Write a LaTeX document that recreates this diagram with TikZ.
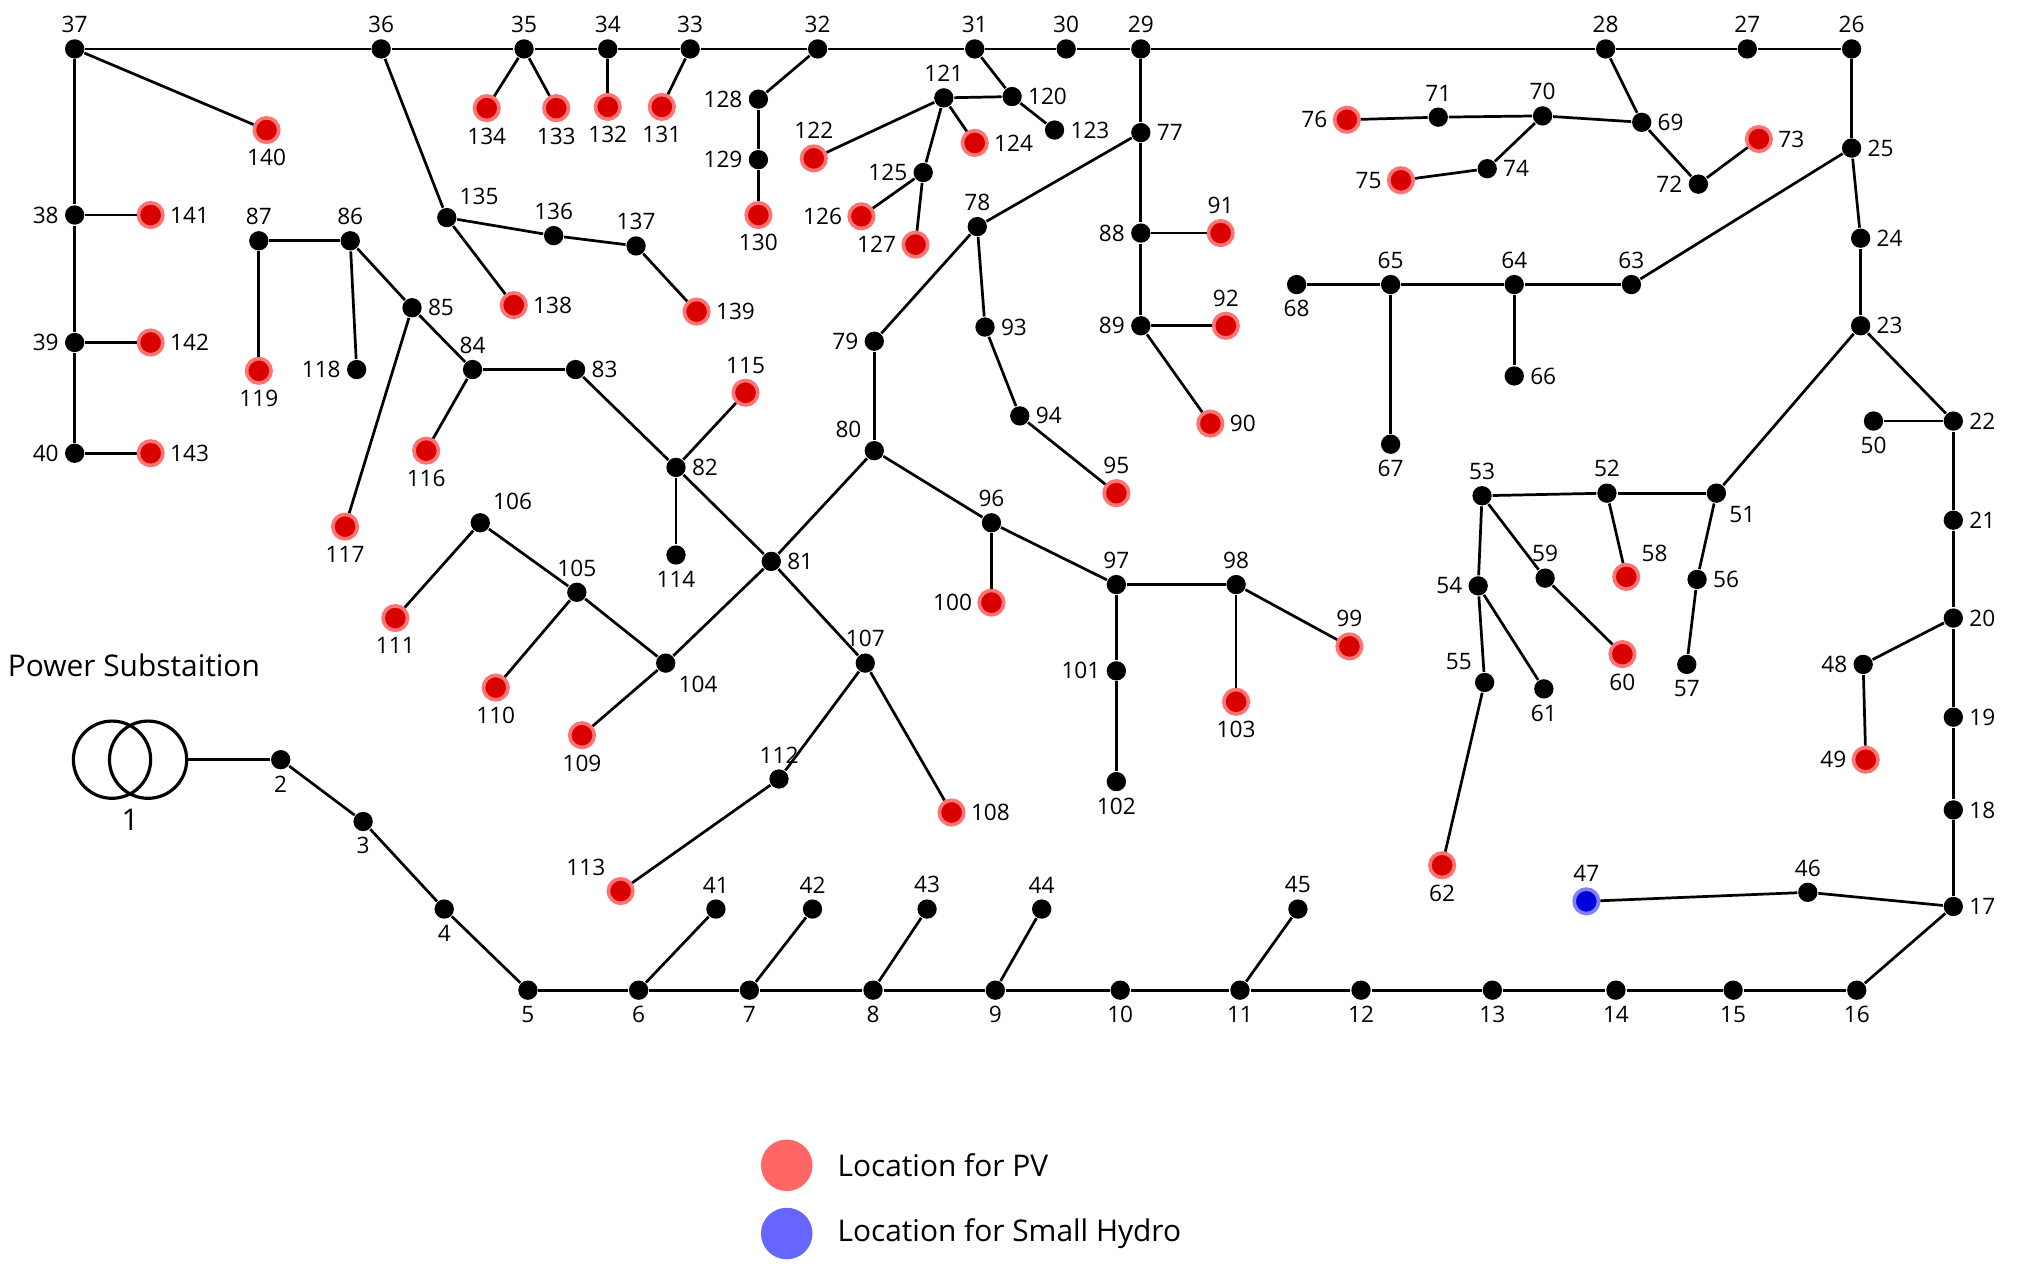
\documentclass[tikz,border=0pt]{standalone}
\usepackage{fontspec}
\setmainfont{Open Sans}
\begin{document}
\begin{tikzpicture}[x=0.01cm,y=-0.01cm,
 b/.style={circle,fill=black,inner sep=0pt,minimum size=0.15cm},
 r/.style={circle,fill=red!85!black,draw=red!55,line width=0.8pt,inner sep=0pt,minimum size=0.19cm},
 h/.style={circle,fill=blue!85!black,draw=blue!50,line width=0.8pt,inner sep=0pt,minimum size=0.19cm},
 lbl/.style={font=\fontsize{5}{6}\selectfont,inner sep=1pt},
 every label/.style={lbl},
 label distance=0pt,
 ln/.style={line width=0.6pt},
 big/.style={font=\fontsize{6.6}{8}\selectfont}]
\useasboundingbox (0,0) rectangle (1568,994);
\foreach \n/\x/\y/\t/\p in {
37/58/38/b/above,36/296/38/b/above,35/407/38/b/above,34/472/38/b/above,33/536/38/b/above,32/635/38/b/above,31/757/38/b/above,30/828/38/b/above,29/886/38/b/above,28/1247/38/b/above,27/1357/38/b/above,26/1438/38/b/above,
140/207/101/r/below,38/58/167/b/left,39/58/266/b/left,40/58/352/b/left,141/117/167/r/right,142/117/266/r/right,143/117/352/r/right,
135/347/169/b/above right,134/378/84/r/below,133/432/84/r/below,132/472/83/r/below,131/514/83/r/below,136/430/183/b/above,137/494/191/b/above,139/541/242/r/right,138/399/237/r/right,
128/589/77/b/left,129/589/124/b/left,130/589/167/r/below,120/786/75/b/right,121/733/76/b/above,123/819/101/b/right,122/632/123/r/above,124/757/111/r/right,125/717/134/b/left,126/669/168/r/left,127/711/190/r/left,
77/886/103/b/right,88/886/181/b/left,89/886/253/b/left,91/948/181/r/above,92/952/253/r/above,90/940/329/r/right,78/759/176/b/above,79/679/265/b/left,80/679/350/b/above left,93/765/254/b/right,94/792/323/b/right,95/867/383/r/above,
81/599/436/b/right,96/770/406/b/above,97/867/454/b/above,98/960/454/b/above,99/1048/502/r/above,100/770/468/r/left,101/867/521/b/left,102/867/607/b/below,103/960/545/r/below,
82/525/363/b/right,115/579/305/r/above,114/525/431/b/below,83/447/287/b/right,84/367/287/b/above,85/320/239/b/right,116/331/350/r/below,86/272/187/b/above,87/201/187/b/above,117/268/409/r/below,118/277/287/b/left,119/201/288/r/below,
104/517/515/b/below right,105/448/460/b/above,106/373/406/b/above right,109/452/571/r/below,110/385/534/r/below,111/307/480/r/below,107/672/515/b/above,112/605/605/b/above,108/739/631/r/right,113/482/692/r/above left,
2/218/590/b/below,3/282/638/b/below,4/345/706/b/below,5/410/769/b/below,6/496/769/b/below,7/582/769/b/below,8/678/769/b/below,9/773/769/b/below,10/870/769/b/below,11/963/769/b/below,12/1057/769/b/below,13/1159/769/b/below,14/1255/769/b/below,15/1346/769/b/below,16/1442/769/b/below,
41/556/706/b/above,42/631/706/b/above,43/720/706/b/above,44/809/706/b/above,45/1008/706/b/above,
17/1517/704/b/right,46/1404/693/b/above,47/1232/700/h/above,18/1517/629/b/right,19/1517/557/b/right,20/1517/480/b/right,21/1517/404/b/right,22/1517/327/b/right,50/1455/327/b/below,48/1447/516/b/left,49/1449/590/r/left,
23/1445/253/b/right,24/1445/185/b/right,25/1438/115/b/right,63/1267/221/b/above,64/1176/221/b/above,65/1080/221/b/above,68/1007/221/b/below,66/1176/292/b/right,67/1080/345/b/below,
51/1333/383/b/below right,52/1248/383/b/above,53/1151/385/b/above,58/1263/448/r/above right,56/1318/450/b/right,57/1310/516/b/below,59/1200/449/b/above,60/1260/508/r/below,54/1148/455/b/left,55/1153/530/b/above left,62/1120/672/r/below,61/1199/535/b/below,
69/1275/95/b/right,70/1198/90/b/above,71/1117/91/b/above,76/1046/93/r/left,74/1155/131/b/right,75/1088/140/r/left,72/1319/143/b/left,73/1366/108/r/right}
 \node[\t,label={\p:\n}] (n\n) at (\x,\y) {};
% substation
\draw[line width=0.7pt] (87,590) circle (30) (115,590) circle (30);
\coordinate (s1) at (145,590);
\node[big] (ps) at (104,517) {Power Substaition};
\node[big] (one) at (101,637) {1};
\draw[ln] (s1) -- (n2);
\foreach \a/\c in {37/36,36/35,35/34,34/33,33/32,32/31,31/30,30/29,29/28,28/27,27/26,
37/140,37/38,38/39,39/40,38/141,39/142,40/143,36/135,35/134,35/133,34/132,33/131,135/136,136/137,137/139,135/138,
32/128,128/129,129/130,31/120,120/123,121/120,121/122,121/124,121/125,125/126,125/127,
29/77,77/88,88/89,88/91,89/92,89/90,77/78,78/79,79/80,78/93,93/94,94/95,
80/81,80/96,96/97,97/98,98/99,96/100,97/101,101/102,98/103,
81/82,82/115,82/114,82/83,83/84,84/85,84/116,85/86,85/117,86/87,86/118,87/119,
81/104,104/105,104/109,105/106,105/110,106/111,81/107,107/112,107/108,112/113,
2/3,3/4,4/5,5/6,6/7,7/8,8/9,9/10,10/11,11/12,12/13,13/14,14/15,15/16,
6/41,7/42,8/43,9/44,11/45,16/17,17/46,46/47,17/18,18/19,19/20,20/21,21/22,22/50,20/48,48/49,
22/23,23/24,24/25,25/26,25/63,63/64,64/65,65/68,64/66,65/67,
23/51,51/52,52/53,52/58,51/56,56/57,53/59,59/60,53/54,54/55,55/62,54/61,
28/69,69/70,70/71,71/76,70/74,74/75,69/72,72/73}
 \draw[ln] (n\a) -- (n\c);
% legend
\node[circle,fill=red!60,inner sep=0pt,minimum size=0.4cm] (lp) at (611,905) {};
\node[circle,fill=blue!60,inner sep=0pt,minimum size=0.4cm] (lh) at (611,958) {};
\node[anchor=west,big] (tp) at (638,905) {Location for PV};
\node[anchor=west,big] (th) at (638,958) {Location for Small Hydro};
\end{tikzpicture}
\end{document}
